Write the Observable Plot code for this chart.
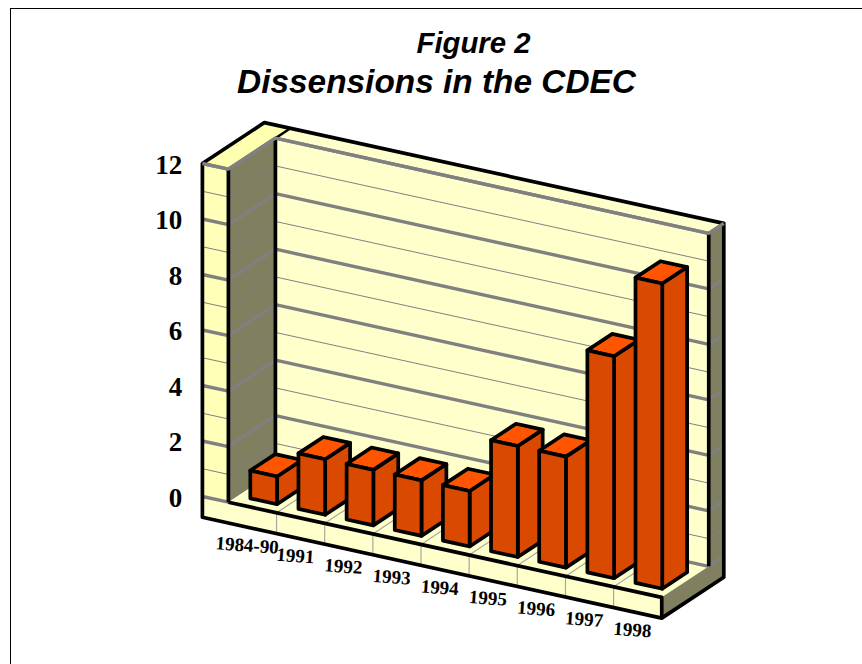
<!DOCTYPE html>
<html>
<head>
<meta charset="utf-8">
<script src="https://cdn.jsdelivr.net/npm/d3@7"></script>
<script src="https://cdn.jsdelivr.net/npm/@observablehq/plot@0.6"></script>
<style>
  html, body { margin: 0; padding: 0; background: #fff; overflow: hidden; }
  #page { position: absolute; left: 10px; top: 8px; width: 852px; height: 656px;
          border-top: 1px solid #000; border-left: 1px solid #000; box-sizing: border-box; }
  #head { position: relative; height: 101px; font-family: "Liberation Sans", Arial, sans-serif;
          font-weight: bold; font-style: italic; color: #000; }
  #head div { position: absolute; white-space: nowrap; transform: translateX(-50%); }
  #fig { left: 462.5px; top: 17px; font-size: 29.3px; line-height: 34px; }
  #ttl { left: 425.5px; top: 54px; font-size: 33.4px; line-height: 38px; }
  #chart svg { display: block; }
</style>
</head>
<body>
<div id="page">
  <div id="head">
    <div id="fig">Figure 2</div>
    <div id="ttl">Dissensions in the CDEC</div>
  </div>
  <div id="chart"></div>
</div>
<script>
const categories = ["1984-90", "1991", "1992", "1993", "1994", "1995", "1996", "1997", "1998"];
const dissensions = [1, 2, 2, 2, 2, 4, 4, 8, 11];
const yTicks = [0, 2, 4, 6, 8, 10, 12];
const gridThin = [1, 3, 5, 7, 9, 11];

const colors = {
  back: "#FFFFCC", wallFront: "#FFFFB8", top: "#FFFFB0", olive: "#808060",
  grid: "#808080", barFront: "#D94A00", barTop: "#FF5500"
};

// Oblique projection: c = category position, v = value, d = depth (0 front, 1 back wall).
const catPx = 48.15, valPx = 27.75;
const P = (c, v, d = 0) => ({x: c + d * (47 / catPx), y: v - c * (10.57 / valPx) + d * (31 / valPx)});
const n = categories.length, L = -0.54, B = 1.32, FOOT = -0.75, TOP = 12;

const W = 851, H = 555, ox = 227.9 - 11, oy = 500.7 - 109;
const xDomain = [-ox / catPx, (W - ox) / catPx];
const yDomain = [(oy - H) / valPx, oy / valPx];

const poly = (pts, fill, stroke = "none", strokeWidth = 0) =>
  Plot.line(pts, {x: "x", y: "y", fill, stroke, strokeWidth, curve: "linear-closed"});
const seg = (pts, stroke, strokeWidth) =>
  Plot.line(pts, {x: "x", y: "y", stroke, strokeWidth, strokeLinecap: "butt"});

const marks = [];
// surfaces
marks.push(poly([P(0, TOP, 1), P(n, TOP, 1), P(n, 0, 1), P(0, 0, 1)], colors.back));
marks.push(poly([P(0, TOP, 1), P(0, TOP, B), P(n, TOP, B), P(n, TOP, 1)], colors.back));
marks.push(poly([P(L, TOP), P(L, TOP, B), P(0, TOP, B), P(0, TOP)], colors.top));
marks.push(poly([P(L, TOP), P(0, TOP), P(0, 0), P(L, 0)], colors.wallFront));
marks.push(poly([P(0, TOP), P(0, TOP, 1), P(0, 0, 1), P(0, 0)], colors.olive));
marks.push(poly([P(n, TOP, 1), P(n, TOP, B), P(n, 0, B), P(n, 0, 1)], colors.olive));
marks.push(poly([P(0, 0), P(0, 0, 1), P(n, 0, 1), P(n, 0)], colors.back));
marks.push(poly([P(L, 0), P(n, 0), P(n, FOOT), P(L, FOOT)], colors.back));
marks.push(poly([P(n, 0), P(n, 0, B), P(n, FOOT, B), P(n, FOOT)], colors.olive));

// grid lines
const gridLine = (v, w) => seg([P(L, v), P(0, v), P(0, v, 1), P(n, v, 1), P(n, v, B)], colors.grid, w);
gridThin.forEach(v => marks.push(gridLine(v, 1)));
yTicks.filter(v => v > 0).forEach(v => marks.push(gridLine(v, 3.4)));
marks.push(seg([P(L, 0), P(0, 0)], colors.grid, 3.4));
marks.push(seg([P(0, 0, 1), P(n, 0, 1), P(n, 0, B)], colors.grid, 3.4));

// category dividers on floor and base
d3.range(1, n).forEach(c => {
  marks.push(seg([P(c, FOOT), P(c, 0), P(c, 0, 1)], "#a8a8a0", 1.2));
});

// structure outlines
const sw = 3.7;
marks.push(seg([P(0, TOP), P(0, 0)], "#000", sw));
marks.push(seg([P(0, TOP, 1), P(0, 0, 1)], "#000", sw));
marks.push(seg([P(n, TOP, 1), P(n, 0, 1)], "#000", sw));
marks.push(seg([P(0, TOP, 1), P(0, TOP, B)], "#000", 2.5));
marks.push(seg([P(0, 0), P(n, 0), P(n, FOOT)], "#000", sw));
marks.push(poly([P(L, TOP), P(L, TOP, B), P(n, TOP, B), P(n, FOOT, B), P(n, FOOT), P(L, FOOT)], "none", "#000", sw));
marks.push(seg([P(L, TOP), P(0, TOP), P(0, TOP, 1), P(n, TOP, 1), P(n, TOP, B)], colors.grid, 3.4));

// bars
const c0 = 0.25, c1 = 0.805, d0 = 0.21, d1 = 0.74;
dissensions.forEach((val, i) => {
  const a = i + c0, b = i + c1;
  marks.push(poly([P(b, 0, d0), P(b, 0, d1), P(b, val, d1), P(b, val, d0)], colors.barFront, "#000", sw));
  marks.push(poly([P(a, val, d0), P(b, val, d0), P(b, val, d1), P(a, val, d1)], colors.barTop, "#000", sw));
  marks.push(poly([P(a, 0, d0), P(b, 0, d0), P(b, val, d0), P(a, val, d0)], colors.barFront, "#000", sw));
});

// value axis labels
marks.push(Plot.text(yTicks, {
  x: v => P(-0.96, v).x, y: v => P(-0.96, v).y, text: d => String(d), textAnchor: "end", dy: 6,
  fontFamily: "Liberation Serif", fontWeight: "bold", fontSize: 27, fill: "#000"
}));
// category labels
marks.push(Plot.text(categories, {
  x: (d, i) => P(i + 0.39, FOOT - 0.66).x, y: (d, i) => P(i + 0.39, FOOT - 0.66).y,
  text: d => d, rotate: 4,
  fontFamily: "Liberation Serif", fontWeight: "bold", fontSize: 19, fill: "#000"
}));

const chart = Plot.plot({
  width: W, height: H,
  marginTop: 0, marginRight: 0, marginBottom: 0, marginLeft: 0,
  x: {type: "linear", domain: xDomain, range: [0, W], axis: null},
  y: {type: "linear", domain: yDomain, range: [H, 0], axis: null},
  style: {background: "transparent"},
  marks
});
document.getElementById("chart").appendChild(chart);
</script>
</body>
</html>
